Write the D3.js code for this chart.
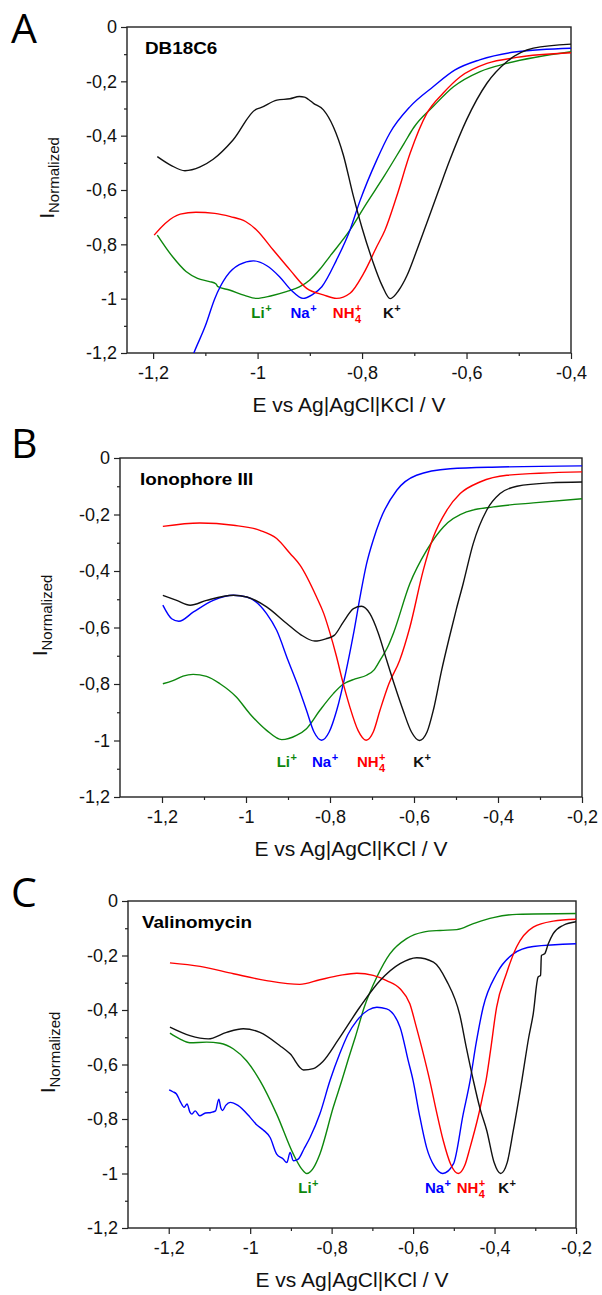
<!DOCTYPE html>
<html>
<head>
<meta charset="utf-8">
<script src="https://cdnjs.cloudflare.com/ajax/libs/d3/7.8.5/d3.min.js"></script>
<style>
  body { margin: 0; background: #fff; }
  text { font-family: "Liberation Sans", Arial, sans-serif; }
</style>
</head>
<body>
<div id="chart"></div>
<script>
// ---- data (E in V, normalized current) ----

// panel A  DB18C6
var aLi = [[-1.192,-0.766],[-1.163,-0.845],[-1.137,-0.9],[-1.115,-0.925],[-1.092,-0.937],[-1.08,-0.945],[-1.076,-0.956],[-1.054,-0.968],[-1.025,-0.988],[-1.002,-0.999],[-0.975,-0.99],[-0.945,-0.974],[-0.92,-0.957],[-0.9,-0.931],[-0.88,-0.89],[-0.862,-0.845],[-0.823,-0.747],[-0.795,-0.66],[-0.758,-0.55],[-0.72,-0.43],[-0.701,-0.37],[-0.664,-0.293],[-0.625,-0.22],[-0.574,-0.164],[-0.523,-0.134],[-0.4,-0.091]];
var aNa = [[-1.13,-1.24],[-1.122,-1.2],[-1.1,-1.1],[-1.082,-1.0],[-1.06,-0.919],[-1.035,-0.875],[-1.008,-0.861],[-0.983,-0.878],[-0.958,-0.919],[-0.935,-0.97],[-0.913,-0.999],[-0.895,-0.985],[-0.877,-0.956],[-0.849,-0.858],[-0.823,-0.747],[-0.804,-0.64],[-0.772,-0.49],[-0.747,-0.391],[-0.708,-0.293],[-0.664,-0.22],[-0.622,-0.158],[-0.575,-0.121],[-0.504,-0.091],[-0.4,-0.078]];
var aNH4 = [[-1.198,-0.766],[-1.177,-0.723],[-1.148,-0.689],[-1.118,-0.682],[-1.082,-0.686],[-1.052,-0.698],[-1.023,-0.716],[-1.002,-0.747],[-0.97,-0.821],[-0.938,-0.894],[-0.906,-0.962],[-0.874,-0.986],[-0.849,-0.999],[-0.823,-0.98],[-0.797,-0.907],[-0.772,-0.809],[-0.756,-0.747],[-0.734,-0.625],[-0.708,-0.465],[-0.676,-0.318],[-0.645,-0.244],[-0.612,-0.183],[-0.561,-0.134],[-0.504,-0.112],[-0.4,-0.095]];
var aK = [[-1.192,-0.477],[-1.165,-0.51],[-1.139,-0.529],[-1.11,-0.515],[-1.085,-0.487],[-1.047,-0.416],[-1.003,-0.303],[-0.995,-0.298],[-0.963,-0.269],[-0.938,-0.264],[-0.92,-0.256],[-0.91,-0.258],[-0.903,-0.266],[-0.893,-0.281],[-0.874,-0.305],[-0.855,-0.367],[-0.836,-0.47],[-0.817,-0.62],[-0.8,-0.74],[-0.78,-0.86],[-0.762,-0.95],[-0.746,-1.0],[-0.73,-0.97],[-0.714,-0.915],[-0.695,-0.821],[-0.675,-0.716],[-0.654,-0.605],[-0.632,-0.49],[-0.6,-0.342],[-0.561,-0.207],[-0.523,-0.128],[-0.472,-0.078],[-0.4,-0.063]];

// panel B  Ionophore III
var bLi = [[-1.198,-0.799],[-1.174,-0.788],[-1.15,-0.772],[-1.126,-0.766],[-1.094,-0.773],[-1.062,-0.799],[-1.023,-0.846],[-0.991,-0.905],[-0.951,-0.964],[-0.915,-0.997],[-0.88,-0.982],[-0.856,-0.958],[-0.824,-0.893],[-0.792,-0.834],[-0.769,-0.801],[-0.74,-0.782],[-0.713,-0.769],[-0.695,-0.75],[-0.681,-0.716],[-0.663,-0.67],[-0.649,-0.62],[-0.61,-0.445],[-0.57,-0.327],[-0.53,-0.244],[-0.475,-0.191],[-0.411,-0.173],[-0.316,-0.159],[-0.2,-0.144]];
var bNa = [[-1.198,-0.521],[-1.177,-0.569],[-1.16,-0.578],[-1.125,-0.545],[-1.078,-0.504],[-1.03,-0.486],[-0.998,-0.492],[-0.951,-0.551],[-0.927,-0.61],[-0.9,-0.716],[-0.873,-0.82],[-0.856,-0.893],[-0.838,-0.97],[-0.82,-0.999],[-0.802,-0.97],[-0.784,-0.893],[-0.763,-0.763],[-0.745,-0.63],[-0.727,-0.48],[-0.713,-0.375],[-0.697,-0.29],[-0.681,-0.221],[-0.641,-0.114],[-0.594,-0.061],[-0.514,-0.038],[-0.395,-0.032],[-0.2,-0.028]];
var bNH4 = [[-1.198,-0.242],[-1.11,-0.23],[-1.03,-0.238],[-0.967,-0.256],[-0.927,-0.285],[-0.895,-0.338],[-0.871,-0.38],[-0.832,-0.492],[-0.815,-0.55],[-0.8,-0.62],[-0.785,-0.7],[-0.77,-0.79],[-0.753,-0.88],[-0.733,-0.965],[-0.714,-0.999],[-0.697,-0.97],[-0.681,-0.893],[-0.66,-0.8],[-0.634,-0.716],[-0.61,-0.6],[-0.578,-0.398],[-0.554,-0.28],[-0.522,-0.185],[-0.49,-0.126],[-0.443,-0.085],[-0.379,-0.061],[-0.2,-0.049]];
var bK = [[-1.198,-0.486],[-1.165,-0.504],[-1.133,-0.521],[-1.094,-0.504],[-1.03,-0.486],[-0.998,-0.492],[-0.951,-0.527],[-0.903,-0.586],[-0.87,-0.625],[-0.836,-0.648],[-0.81,-0.64],[-0.79,-0.628],[-0.768,-0.58],[-0.744,-0.533],[-0.725,-0.525],[-0.705,-0.551],[-0.685,-0.62],[-0.665,-0.716],[-0.645,-0.81],[-0.626,-0.893],[-0.606,-0.97],[-0.587,-1.0],[-0.569,-0.97],[-0.554,-0.893],[-0.534,-0.75],[-0.515,-0.63],[-0.5,-0.54],[-0.483,-0.445],[-0.459,-0.303],[-0.427,-0.185],[-0.395,-0.126],[-0.355,-0.1],[-0.276,-0.088],[-0.2,-0.085]];

// panel C  Valinomycin
var cLi = [[-1.197,-0.485],[-1.173,-0.506],[-1.148,-0.52],[-1.107,-0.518],[-1.074,-0.522],[-1.041,-0.543],[-1.009,-0.586],[-0.976,-0.659],[-0.935,-0.782],[-0.894,-0.929],[-0.875,-0.98],[-0.861,-1.0],[-0.845,-0.98],[-0.829,-0.929],[-0.796,-0.757],[-0.775,-0.659],[-0.759,-0.58],[-0.742,-0.5],[-0.72,-0.39],[-0.689,-0.279],[-0.657,-0.194],[-0.616,-0.138],[-0.575,-0.114],[-0.534,-0.108],[-0.493,-0.105],[-0.452,-0.083],[-0.403,-0.061],[-0.346,-0.049],[-0.2,-0.046]];
var cNa = [[-1.199,-0.693],[-1.19,-0.7],[-1.181,-0.708],[-1.172,-0.735],[-1.162,-0.757],[-1.155,-0.745],[-1.148,-0.775],[-1.143,-0.782],[-1.135,-0.77],[-1.124,-0.788],[-1.11,-0.778],[-1.096,-0.776],[-1.085,-0.77],[-1.077,-0.727],[-1.072,-0.76],[-1.068,-0.769],[-1.06,-0.75],[-1.049,-0.739],[-1.03,-0.75],[-1.0,-0.794],[-0.985,-0.82],[-0.968,-0.84],[-0.951,-0.868],[-0.935,-0.929],[-0.919,-0.947],[-0.91,-0.96],[-0.902,-0.923],[-0.894,-0.953],[-0.882,-0.947],[-0.868,-0.91],[-0.853,-0.868],[-0.829,-0.782],[-0.804,-0.659],[-0.78,-0.56],[-0.76,-0.49],[-0.738,-0.439],[-0.71,-0.4],[-0.689,-0.39],[-0.665,-0.396],[-0.632,-0.463],[-0.612,-0.586],[-0.6,-0.659],[-0.585,-0.78],[-0.567,-0.904],[-0.547,-0.975],[-0.527,-1.0],[-0.501,-0.965],[-0.477,-0.782],[-0.46,-0.659],[-0.445,-0.52],[-0.428,-0.39],[-0.395,-0.267],[-0.354,-0.194],[-0.305,-0.167],[-0.2,-0.157]];
var cNH4 = [[-1.197,-0.227],[-1.123,-0.24],[-1.041,-0.267],[-0.96,-0.292],[-0.878,-0.306],[-0.829,-0.289],[-0.78,-0.273],[-0.738,-0.265],[-0.698,-0.273],[-0.665,-0.292],[-0.632,-0.322],[-0.608,-0.377],[-0.592,-0.463],[-0.575,-0.56],[-0.559,-0.659],[-0.543,-0.77],[-0.526,-0.879],[-0.508,-0.965],[-0.489,-1.0],[-0.473,-0.97],[-0.46,-0.904],[-0.44,-0.79],[-0.428,-0.708],[-0.421,-0.659],[-0.41,-0.55],[-0.395,-0.39],[-0.371,-0.267],[-0.346,-0.169],[-0.305,-0.096],[-0.256,-0.074],[-0.2,-0.067]];
var cK = [[-1.197,-0.463],[-1.148,-0.494],[-1.103,-0.506],[-1.058,-0.482],[-1.017,-0.469],[-0.976,-0.482],[-0.927,-0.531],[-0.902,-0.561],[-0.869,-0.62],[-0.845,-0.615],[-0.822,-0.59],[-0.784,-0.51],[-0.731,-0.39],[-0.681,-0.292],[-0.632,-0.23],[-0.591,-0.208],[-0.55,-0.224],[-0.518,-0.292],[-0.485,-0.42],[-0.469,-0.54],[-0.452,-0.659],[-0.436,-0.76],[-0.419,-0.843],[-0.401,-0.96],[-0.385,-1.0],[-0.369,-0.96],[-0.354,-0.843],[-0.333,-0.659],[-0.316,-0.5],[-0.305,-0.414],[-0.293,-0.279],[-0.287,-0.273],[-0.285,-0.2],[-0.277,-0.194],[-0.268,-0.157],[-0.256,-0.12],[-0.231,-0.089],[-0.2,-0.076]];

// ticks
var yTicks = [0, -0.2, -0.4, -0.6, -0.8, -1, -1.2];
var yMinor = [-0.1, -0.3, -0.5, -0.7, -0.9, -1.1];
var xTicksA = [-1.2, -1, -0.8, -0.6, -0.4];
var xMinorA = [-1.1, -0.9, -0.7, -0.5];
var xTicksBC = [-1.2, -1, -0.8, -0.6, -0.4, -0.2];
var xMinorBC = [-1.1, -0.9, -0.7, -0.5, -0.3];

// ion labels: Li+, Na+, NH4+, K+ (E at label left edge)
var labA = [-1.012, -0.937, -0.856, -0.76];
var labB = [-0.927, -0.843, -0.736, -0.602];
var labC = [-0.882, -0.571, -0.493, -0.391];

var colors = ["#0d870d", "#0000ff", "#ff0000", "#111111"];

var svgWidth = 602;
var svgHeight = 1295;

var svg = d3.select("#chart")
    .append("svg")
    .attr("width", svgWidth)
    .attr("height", svgHeight);

function fmt(d) {
    return String(+d.toFixed(1)).replace(".", ",");
}

var panels = [
    { letter: "A", title: "DB18C6", left: 127, right: 571, top: 27, bottom: 353, xDom: [-1.25, -0.4],
      xt: xTicksA, xm: xMinorA, series: [aLi, aNa, aNH4, aK], lab: labA, labY: 318, letterY: 43, tx: 18 },
    { letter: "B", title: "Ionophore III", left: 120, right: 582, top: 458, bottom: 797, xDom: [-1.3, -0.2],
      xt: xTicksBC, xm: xMinorBC, series: [bLi, bNa, bNH4, bK], lab: labB, labY: 767, letterY: 458, tx: 20 },
    { letter: "C", title: "Valinomycin", left: 128, right: 576, top: 901, bottom: 1228, xDom: [-1.3, -0.2],
      xt: xTicksBC, xm: xMinorBC, series: [cLi, cNa, cNH4, cK], lab: labC, labY: 1193, letterY: 907, tx: 14 }
];

panels.forEach(function (p, i) {
    var w = p.right - p.left;
    var h = p.bottom - p.top;
    var g = svg.append("g").attr("transform", `translate(${p.left},${p.top})`);

    var x = d3.scaleLinear().domain(p.xDom).range([0, w]);
    var y = d3.scaleLinear().domain([-1.2, 0]).range([h, 0]);

    svg.append("clipPath").attr("id", "clip" + i)
        .append("rect").attr("width", w).attr("height", h);

    // axes
    g.append("g").attr("transform", `translate(0,${h})`)
        .call(d3.axisBottom(x).tickValues(p.xt).tickSize(6).tickPadding(7).tickFormat(fmt));
    g.append("g").attr("transform", `translate(0,${h})`)
        .call(d3.axisBottom(x).tickValues(p.xm).tickSize(3).tickFormat(""));
    g.append("g")
        .call(d3.axisLeft(y).tickValues(yTicks).tickSize(6).tickPadding(4).tickFormat(fmt));
    g.append("g")
        .call(d3.axisLeft(y).tickValues(yMinor).tickSize(3).tickFormat(""));

    g.selectAll(".domain").remove();
    g.selectAll(".tick line").attr("stroke", "#222").attr("stroke-width", 1.2);
    g.selectAll(".tick text").attr("fill", "#111")
        .style("font-size", "18px");

    // frame
    g.append("rect").attr("width", w).attr("height", h)
        .attr("fill", "none").attr("stroke", "#222").attr("stroke-width", 1.4);

    // curves
    var line = d3.line()
        .x(d => x(d[0]))
        .y(d => y(d[1]))
        .curve(d3.curveMonotoneX);

    g.append("g").attr("clip-path", `url(#clip${i})`)
        .selectAll("path")
        .data(p.series)
        .enter()
        .append("path")
        .attr("d", line)
        .attr("fill", "none")
        .attr("stroke", (d, k) => colors[k])
        .attr("stroke-width", 1.4);

    // inner title (source image is a bit stretched sideways)
    g.append("text")
        .attr("transform", `translate(${p.tx},27) scale(1.18,1)`)
        .style("font-size", "16px")
        .style("font-weight", "bold")
        .text(p.title);

    // ion labels
    p.lab.forEach(function (e, k) {
        var lx = x(e);
        var ly = p.labY - p.top;
        var base = ["Li", "Na", "NH", "K"][k];
        var t = g.append("text")
            .attr("x", lx).attr("y", ly)
            .attr("fill", colors[k])
            .style("font-size", "15px")
            .style("font-weight", "bold")
            .text(base);
        var len = t.node().getComputedTextLength();
        g.append("text")
            .attr("x", lx + len + 0.5).attr("y", ly - 6)
            .attr("fill", colors[k])
            .style("font-size", "11px")
            .style("font-weight", "bold")
            .text("+");
        if (k == 2) {
            g.append("text")
                .attr("x", lx + len + 0.5).attr("y", ly + 5)
                .attr("fill", colors[k])
                .style("font-size", "11px")
                .style("font-weight", "bold")
                .text("4");
        }
    });

    // axis titles
    g.append("text")
        .attr("x", w / 2)
        .attr("y", h + 59)
        .attr("text-anchor", "middle")
        .attr("fill", "#111")
        .style("font-size", "21px")
        .text("E vs Ag|AgCl|KCl / V");

    var yl = g.append("text")
        .attr("transform", `translate(-73,${h / 2 - 12}) rotate(-90)`)
        .attr("text-anchor", "middle")
        .attr("fill", "#111");
    yl.append("tspan").style("font-size", "21px").text("I");
    yl.append("tspan").attr("dy", 5).style("font-size", "15px").text("Normalized");

    // panel letter
    svg.append("text")
        .attr("x", 11)
        .attr("y", p.letterY)
        .style("font-family", "'Open Sans', sans-serif")
        .style("font-size", "41px")
        .text(p.letter);
});
</script>
</body>
</html>
